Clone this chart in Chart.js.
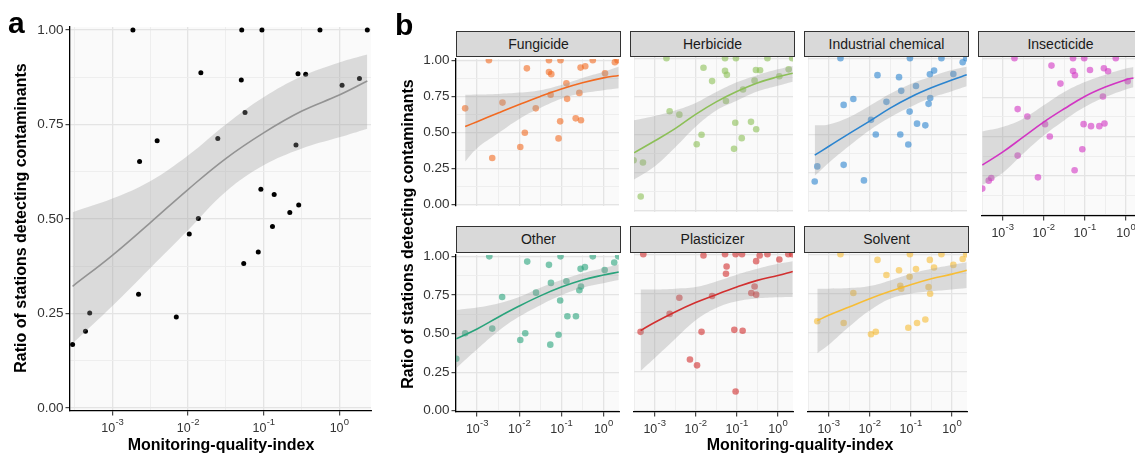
<!DOCTYPE html>
<html>
<head>
<meta charset="utf-8">
<script src="https://cdn.jsdelivr.net/npm/chart.js@4.4.0/dist/chart.umd.min.js"></script>
<style>
  html, body { margin: 0; padding: 0; width: 1135px; height: 454px; overflow: hidden; background: #fff; }
  #figure { position: relative; width: 1135px; height: 454px; overflow: hidden;
            font-family: "Liberation Sans", Arial, Helvetica, sans-serif; }
  #figure canvas { position: absolute; }
  .strip { position: absolute; box-sizing: border-box; background: #d9d9d9; border: 1px solid #333;
           color: #1a1a1a; font-size: 14px; text-align: center; line-height: 24.5px; white-space: nowrap; }
  .axis-title { position: absolute; width: 400px; height: 20px; line-height: 20px; font-size: 16px;
                font-weight: bold; color: #000; text-align: center; white-space: nowrap; }
  .panel-tag { position: absolute; font-size: 30px; line-height: 30px; font-weight: bold; color: #000; }
</style>
</head>
<body>
<div id="figure"></div>
<script>
// Axis grid values (x as powers of ten, y as ratios)
const xGrid = [-3.5, -3, -2.5, -2, -1.5, -1, -0.5, 0].map(e => Math.pow(10, e));
const yGrid = [0, 0.125, 0.25, 0.375, 0.5, 0.625, 0.75, 0.875, 1];

// Panel a: all contaminants
const aX = [0.00187, 0.0514, 0.095, 0.556, 2.35, 0.0148, 0.0507, 0.285, 0.36, 1.09, 1.85, 0.0568, 0.00391, 0.0248, 0.00229,
            0.268, 0.092, 0.138, 0.291, 0.222, 0.0137, 0.131, 0.0104, 0.085, 0.0546, 0.00222, 0.000502, 0.00701, 0.000441, 0.000298];
const aY = [1, 1, 1, 1, 1, 0.887, 0.868, 0.884, 0.883, 0.854, 0.872, 0.782, 0.707, 0.713, 0.652,
            0.696, 0.579, 0.565, 0.537, 0.517, 0.501, 0.48, 0.46, 0.413, 0.382, 0.301, 0.251, 0.241, 0.203, 0.168];
const aFitX = [0.000298, 0.001, 0.00316, 0.01, 0.0316, 0.1, 0.316, 1, 2.35];
const aFit = [0.322, 0.404, 0.49, 0.578, 0.66, 0.728, 0.785, 0.828, 0.865];
const aHi = [0.518, 0.554, 0.6, 0.668, 0.75, 0.822, 0.877, 0.914, 0.935];
const aLo = [0.171, 0.27, 0.37, 0.47, 0.572, 0.642, 0.686, 0.716, 0.739];

// Panel b: one facet per contaminant class
const fungicideX = [5.22e-4, 1.91e-3, 2.29e-3, 4.01e-3, 0.0106, 0.0136, 0.0152, 0.0247, 0.0508, 0.0508, 0.0577, 0.0556, 0.0857,
                    0.0938, 0.0955, 0.132, 0.137, 0.219, 0.267, 0.286, 0.292, 0.369, 0.557, 1.086, 1.862, 2.153];
const fungicideY = [0.667, 1, 0.323, 0.707, 0.4, 0.498, 0.944, 0.667, 1, 0.919, 0.904, 0.761, 0.459,
                    0.577, 1, 0.84, 0.733, 0.598, 0.774, 0.949, 0.585, 0.959, 1, 0.91, 0.987, 1];
const fungicideFitX = [5.22e-4, 0.001, 0.00316, 0.01, 0.0316, 0.1, 0.316, 1, 2.3];
const fungicideFit = [0.541, 0.575, 0.635, 0.694, 0.75, 0.801, 0.844, 0.878, 0.895];
const fungicideHi = [0.761, 0.763, 0.767, 0.776, 0.793, 0.829, 0.878, 0.921, 0.955];
const fungicideLo = [0.299, 0.391, 0.494, 0.594, 0.669, 0.733, 0.771, 0.793, 0.806];

const herbicideX = [1.95e-3, 0.0518, 0.0955, 0.557, 2.234, 0.0155, 0.0518, 0.0575, 0.292, 0.369, 1.832, 0.0251, 0.271, 1.086,
                    0.142, 0.0546, 2.33e-3, 4.01e-3, 0.092, 0.222, 0.297, 0.0139, 0.132, 0.0106, 0.0857, 3.1e-4, 5.22e-4, 4.61e-4];
const herbicideY = [1, 1, 1, 1, 1, 0.938, 0.917, 0.891, 0.923, 0.921, 0.927, 0.85, 0.853, 0.882,
                    0.795, 0.72, 0.652, 0.63, 0.577, 0.583, 0.534, 0.498, 0.476, 0.436, 0.406, 0.331, 0.316, 0.094];
const herbicideFitX = [3.16e-4, 0.001, 0.00316, 0.01, 0.0316, 0.1, 0.316, 1, 2.3];
const herbicideFit = [0.38, 0.457, 0.538, 0.632, 0.714, 0.782, 0.838, 0.878, 0.902];
const herbicideHi = [0.594, 0.622, 0.658, 0.707, 0.778, 0.842, 0.889, 0.927, 0.949];
const herbicideLo = [0.205, 0.291, 0.415, 0.551, 0.658, 0.722, 0.782, 0.82, 0.846];

const industrialX = [4.61e-4, 5.32e-4, 1.95e-3, 2.33e-3, 2.33e-3, 4.01e-3, 7.26e-3, 0.0108, 0.0141, 0.0155, 0.0256, 0.0518, 0.0556, 0.0586,
                     0.0871, 0.0938, 0.0955, 0.134, 0.142, 0.226, 0.271, 0.297, 0.292, 0.369, 0.557, 1.086, 1.832, 2.234];
const industrialY = [0.192, 0.291, 1, 0.694, 0.301, 0.733, 0.199, 0.596, 0.5, 0.889, 0.714, 0.876, 0.5, 0.786,
                     0.434, 0.65, 1, 0.818, 0.571, 0.56, 0.701, 0.739, 0.895, 0.919, 1, 0.897, 0.974, 1];
const industrialFitX = [4.61e-4, 0.001, 0.00316, 0.01, 0.0316, 0.1, 0.316, 1, 2.3];
const industrialFit = [0.365, 0.421, 0.506, 0.588, 0.673, 0.746, 0.806, 0.857, 0.891];
const industrialHi = [0.56, 0.566, 0.613, 0.688, 0.767, 0.831, 0.88, 0.923, 0.944];
const industrialLo = [0.229, 0.314, 0.425, 0.528, 0.613, 0.682, 0.741, 0.784, 0.816];

const insecticideX = [3.21e-4, 4.61e-4, 5.32e-4, 1.95e-3, 2.33e-3, 2.33e-3, 4.01e-3, 7.26e-3, 0.0108, 0.0141, 0.0155, 0.0256, 0.0518, 0.0518,
                      0.0577, 0.0566, 0.0871, 0.0938, 0.097, 0.134, 0.142, 0.226, 0.276, 0.292, 0.302, 0.369, 0.568, 1.107];
const insecticideY = [0.167, 0.218, 0.235, 1, 0.675, 0.378, 0.628, 0.239, 0.579, 0.5, 0.953, 0.838, 1, 0.919,
                      0.891, 0.284, 0.419, 0.579, 1, 0.925, 0.566, 0.566, 0.756, 0.936, 0.583, 0.917, 1, 0.853];
const insecticideFitX = [3.21e-4, 0.001, 0.00316, 0.01, 0.0316, 0.1, 0.316, 1, 1.53];
const insecticideFit = [0.318, 0.4, 0.496, 0.592, 0.677, 0.756, 0.816, 0.863, 0.874];
const insecticideHi = [0.532, 0.56, 0.613, 0.699, 0.784, 0.848, 0.895, 0.934, 0.944];
const insecticideLo = [0.19, 0.267, 0.389, 0.506, 0.603, 0.688, 0.752, 0.801, 0.814];

const otherX = [3.21e-4, 5.22e-4, 1.95e-3, 2.29e-3, 3.94e-3, 0.0106, 0.0139, 0.0155, 0.0251, 0.0508, 0.0546, 0.0566, 0.0857,
                0.0938, 0.0955, 0.132, 0.139, 0.222, 0.267, 0.292, 0.286, 0.362, 0.557, 1.067, 1.799, 2.234];
const otherY = [0.337, 0.502, 1, 0.532, 0.737, 0.458, 0.502, 0.966, 0.765, 0.945, 0.428, 0.828, 0.492,
                0.714, 1, 0.839, 0.612, 0.612, 0.78, 0.805, 0.919, 0.93, 1, 0.911, 0.96, 1];
const otherFitX = [3.21e-4, 0.001, 0.00316, 0.01, 0.0316, 0.1, 0.316, 1, 2.3];
const otherFit = [0.466, 0.53, 0.606, 0.678, 0.744, 0.801, 0.847, 0.879, 0.898];
const otherHi = [0.653, 0.669, 0.695, 0.737, 0.797, 0.847, 0.89, 0.924, 0.949];
const otherLo = [0.275, 0.398, 0.515, 0.61, 0.684, 0.748, 0.797, 0.826, 0.847];

const plasticizerX = [4.57e-4, 5.32e-4, 2.33e-3, 4.01e-3, 7.26e-3, 0.0108, 0.0139, 0.0155, 0.0251, 0.0518, 0.0566, 0.0546, 0.0871,
                      0.0938, 0.0938, 0.134, 0.139, 0.226, 0.271, 0.296, 0.296, 0.361, 0.557, 1.086, 1.799, 2.234];
const plasticizerY = [0.504, 1, 0.619, 0.722, 0.327, 0.29, 0.504, 0.992, 0.733, 1, 0.922, 0.875, 0.517,
                      1, 0.123, 1, 0.511, 0.752, 0.794, 0.956, 0.742, 0.992, 1, 0.966, 1, 1];
const plasticizerFitX = [4.57e-4, 0.001, 0.00316, 0.01, 0.0316, 0.1, 0.316, 1, 2.3];
const plasticizerFit = [0.513, 0.564, 0.631, 0.691, 0.742, 0.79, 0.833, 0.864, 0.89];
const plasticizerHi = [0.775, 0.775, 0.78, 0.79, 0.826, 0.869, 0.907, 0.939, 0.956];
const plasticizerLo = [0.254, 0.335, 0.458, 0.578, 0.657, 0.7, 0.718, 0.725, 0.727];

const solventX = [5.32e-4, 1.95e-3, 2.33e-3, 4.01e-3, 0.0108, 0.0141, 0.0155, 0.0256, 0.0518, 0.0556, 0.0586, 0.0871, 0.0938,
                  0.0955, 0.134, 0.142, 0.226, 0.271, 0.291, 0.296, 0.368, 0.557, 1.086, 1.832, 2.234];
const solventY = [0.572, 1, 0.561, 0.752, 0.489, 0.504, 0.964, 0.867, 0.898, 0.799, 0.78, 0.53, 0.856,
                  1, 0.905, 0.561, 0.583, 0.79, 0.964, 0.748, 0.915, 1, 0.932, 0.97, 1];
const solventFitX = [5.32e-4, 0.001, 0.00316, 0.01, 0.0316, 0.1, 0.316, 1, 2.3];
const solventFit = [0.576, 0.61, 0.663, 0.716, 0.763, 0.805, 0.843, 0.873, 0.898];
const solventHi = [0.78, 0.78, 0.784, 0.797, 0.833, 0.875, 0.907, 0.932, 0.949];
const solventLo = [0.367, 0.42, 0.536, 0.64, 0.716, 0.748, 0.763, 0.775, 0.784];

const facetNames = ['Fungicide', 'Herbicide', 'Industrial chemical', 'Insecticide', 'Other', 'Plasticizer', 'Solvent'];
const facetColors = ['#F26A21', '#8CBF57', '#2B84CF', '#D235C3', '#28A37B', '#D22F2F', '#F7BD35'];

const FONT = "'Liberation Sans', Arial, Helvetica, sans-serif";
const BAND = 'rgba(153, 153, 153, 0.32)';
const figure = document.getElementById('figure');

Chart.defaults.font.family = FONT;

const isDecade = v => Math.abs(Math.log10(v) - Math.round(Math.log10(v))) < 1e-9;
const isQuarter = v => Math.abs(v * 4 - Math.round(v * 4)) < 1e-9;
const toPoints = (xs, ys) => xs.map((x, i) => ({ x, y: ys[i] }));
const withAlpha = (hex, a) => {
    const n = parseInt(hex.slice(1), 16);
    return `rgba(${n >> 16}, ${(n >> 8) & 255}, ${n & 255}, ${a})`;
};

// light panel background under the grid
const panelBackground = {
    id: 'panelBackground',
    beforeDraw(chart) {
        const { ctx, chartArea: a } = chart;
        ctx.save();
        ctx.fillStyle = '#FAFAFA';
        ctx.fillRect(a.left, a.top, a.right - a.left, a.bottom - a.top);
        ctx.restore();
    }
};

// x tick labels as 10 with a raised exponent
const powerTicks = {
    id: 'powerTicks',
    afterDraw(chart, args, opts) {
        if (!opts.show) return;
        const { ctx } = chart;
        const x = chart.scales.x;
        const base = x.top + 20.5;
        ctx.save();
        ctx.fillStyle = '#333';
        ctx.textAlign = 'left';
        ctx.textBaseline = 'alphabetic';
        x.ticks.forEach(t => {
            if (!isDecade(t.value)) return;
            const exp = String(Math.round(Math.log10(t.value)));
            const px = x.getPixelForValue(t.value);
            ctx.font = `12.5px ${FONT}`;
            const w1 = ctx.measureText('10').width;
            ctx.font = `9.5px ${FONT}`;
            const w2 = ctx.measureText(exp).width;
            const start = px - (w1 + w2) / 2;
            ctx.font = `12.5px ${FONT}`;
            ctx.fillText('10', start, base);
            ctx.font = `9.5px ${FONT}`;
            ctx.fillText(exp, start + w1 + 0.3, base - 7);
        });
        ctx.restore();
    }
};

Chart.register(panelBackground, powerTicks);

const makePanel = (p) => {
    const padTop = p.padTop;
    const padRight = 2;
    const axisW = p.showY ? p.axisW : 0;
    const axisH = p.showX ? p.axisH : 0;

    const canvas = document.createElement('canvas');
    canvas.width = Math.round(axisW + p.width + padRight);
    canvas.height = Math.round(padTop + p.height + axisH);
    canvas.style.left = (p.left - axisW) + 'px';
    canvas.style.top = (p.top - padTop) + 'px';
    figure.appendChild(canvas);

    const gridColor = major => major ? '#E4E4E4' : '#ECECEC';
    const gridWidth = major => major ? 1.3 : 0.9;
    const curve = { pointRadius: 0, tension: 0.4, clip: 0 };

    return new Chart(canvas, {
        type: 'scatter',
        data: {
            datasets: [
                {
                    data: toPoints(p.xs, p.ys),
                    backgroundColor: p.pointColor,
                    borderWidth: 0,
                    pointRadius: p.pointRadius,
                    order: 3,
                    clip: 0
                },
                {
                    ...curve,
                    type: 'line',
                    data: toPoints(p.fitX, p.hi),
                    borderColor: 'rgba(0,0,0,0)',
                    backgroundColor: BAND,
                    fill: '+1',
                    order: 2
                },
                {
                    ...curve,
                    type: 'line',
                    data: toPoints(p.fitX, p.lo),
                    borderColor: 'rgba(0,0,0,0)',
                    fill: false,
                    order: 2
                },
                {
                    ...curve,
                    type: 'line',
                    data: toPoints(p.fitX, p.fit),
                    borderColor: p.lineColor,
                    borderWidth: 1.6,
                    fill: false,
                    order: 1
                }
            ]
        },
        options: {
            responsive: false,
            maintainAspectRatio: false,
            animation: false,
            devicePixelRatio: 1,
            events: [],
            layout: { padding: { top: padTop, right: padRight, left: 0, bottom: 0 } },
            plugins: {
                legend: { display: false },
                tooltip: { enabled: false },
                powerTicks: { show: p.showX }
            },
            scales: {
                x: {
                    type: 'logarithmic',
                    min: p.xMin,
                    max: p.xMax,
                    bounds: 'data',
                    afterBuildTicks: s => { s.ticks = xGrid.filter(v => v >= p.xMin && v <= p.xMax).map(v => ({ value: v })); },
                    afterFit: s => { s.height = axisH; },
                    ticks: { display: false },
                    grid: {
                        color: c => gridColor(c.tick && isDecade(c.tick.value)),
                        lineWidth: c => gridWidth(c.tick && isDecade(c.tick.value)),
                        drawTicks: p.showX,
                        tickLength: 4.5,
                        tickWidth: 1.1,
                        tickColor: c => (c.tick && isDecade(c.tick.value)) ? '#333' : 'rgba(0,0,0,0)'
                    },
                    border: { display: p.showX, color: '#000', width: 1.3 }
                },
                y: {
                    min: -0.008,
                    max: 1.008,
                    bounds: 'data',
                    afterBuildTicks: s => { s.ticks = yGrid.map(v => ({ value: v })); },
                    afterFit: s => { s.width = axisW; },
                    ticks: {
                        display: p.showY,
                        autoSkip: false,
                        padding: 2,
                        color: '#333',
                        font: { size: 13.5, family: FONT },
                        callback: v => isQuarter(v) ? v.toFixed(2) : ''
                    },
                    grid: {
                        color: c => gridColor(c.tick && isQuarter(c.tick.value)),
                        lineWidth: c => gridWidth(c.tick && isQuarter(c.tick.value)),
                        drawTicks: p.showY,
                        tickLength: 4.5,
                        tickWidth: 1.1,
                        tickColor: c => (c.tick && isQuarter(c.tick.value)) ? '#333' : 'rgba(0,0,0,0)'
                    },
                    border: { display: p.showY, color: '#000', width: 1.3 }
                }
            }
        }
    });
};

const addText = (text, cls, css) => {
    const el = document.createElement('div');
    el.className = cls;
    el.textContent = text;
    Object.assign(el.style, css);
    figure.appendChild(el);
    return el;
};

// --- panel a ---
makePanel({
    left: 70, top: 27, width: 303, height: 384, padTop: 27,
    axisW: 70, axisH: 43, showX: true, showY: true,
    xMin: Math.pow(10, -3.56), xMax: Math.pow(10, 0.42),
    xs: aX, ys: aY, fitX: aFitX, fit: aFit, hi: aHi, lo: aLo,
    pointColor: '#000', pointRadius: 2.5, lineColor: '#939393'
});

// --- panel b facets ---
const facetData = [
    [fungicideX, fungicideY, fungicideFitX, fungicideFit, fungicideHi, fungicideLo],
    [herbicideX, herbicideY, herbicideFitX, herbicideFit, herbicideHi, herbicideLo],
    [industrialX, industrialY, industrialFitX, industrialFit, industrialHi, industrialLo],
    [insecticideX, insecticideY, insecticideFitX, insecticideFit, insecticideHi, insecticideLo],
    [otherX, otherY, otherFitX, otherFit, otherHi, otherLo],
    [plasticizerX, plasticizerY, plasticizerFitX, plasticizerFit, plasticizerHi, plasticizerLo],
    [solventX, solventY, solventFitX, solventFit, solventHi, solventLo]
];

const FACET_W = 165, FACET_H = 159, STRIP_H = 26.5;
const rowTops = [57, 252.5];

facetNames.forEach((name, i) => {
    const col = i % 4;
    const row = Math.floor(i / 4);
    const left = 456 + col * 174;
    const top = rowTops[row];
    const [xs, ys, fitX, fit, hi, lo] = facetData[i];

    makePanel({
        left, top, width: FACET_W, height: FACET_H, padTop: 8,
        axisW: 56, axisH: 30, showX: row === 1 || i === 3, showY: col === 0,
        xMin: Math.pow(10, -3.5), xMax: Math.pow(10, 0.368),
        xs, ys, fitX, fit, hi, lo,
        pointColor: withAlpha(facetColors[i], 0.6), pointRadius: 3.3, lineColor: facetColors[i]
    });

    addText(name, 'strip', {
        left: left + 'px', top: (top - STRIP_H) + 'px', width: FACET_W + 'px', height: STRIP_H + 'px'
    });
});

// --- titles and panel tags ---
addText('Ratio of stations detecting contaminants', 'axis-title', { left: (21 - 200) + 'px', top: (218 - 10) + 'px', transform: 'rotate(-90deg)' });
addText('Monitoring-quality-index', 'axis-title', { left: (221 - 200) + 'px', top: '435px' });
addText('Ratio of stations detecting contaminants', 'axis-title', { left: (408 - 200) + 'px', top: (234 - 10) + 'px', transform: 'rotate(-90deg)' });
addText('Monitoring-quality-index', 'axis-title', { left: (800 - 200) + 'px', top: '435px' });
addText('a', 'panel-tag', { left: '8px', top: '8px' });
addText('b', 'panel-tag', { left: '395px', top: '10px' });
</script>
</body>
</html>
